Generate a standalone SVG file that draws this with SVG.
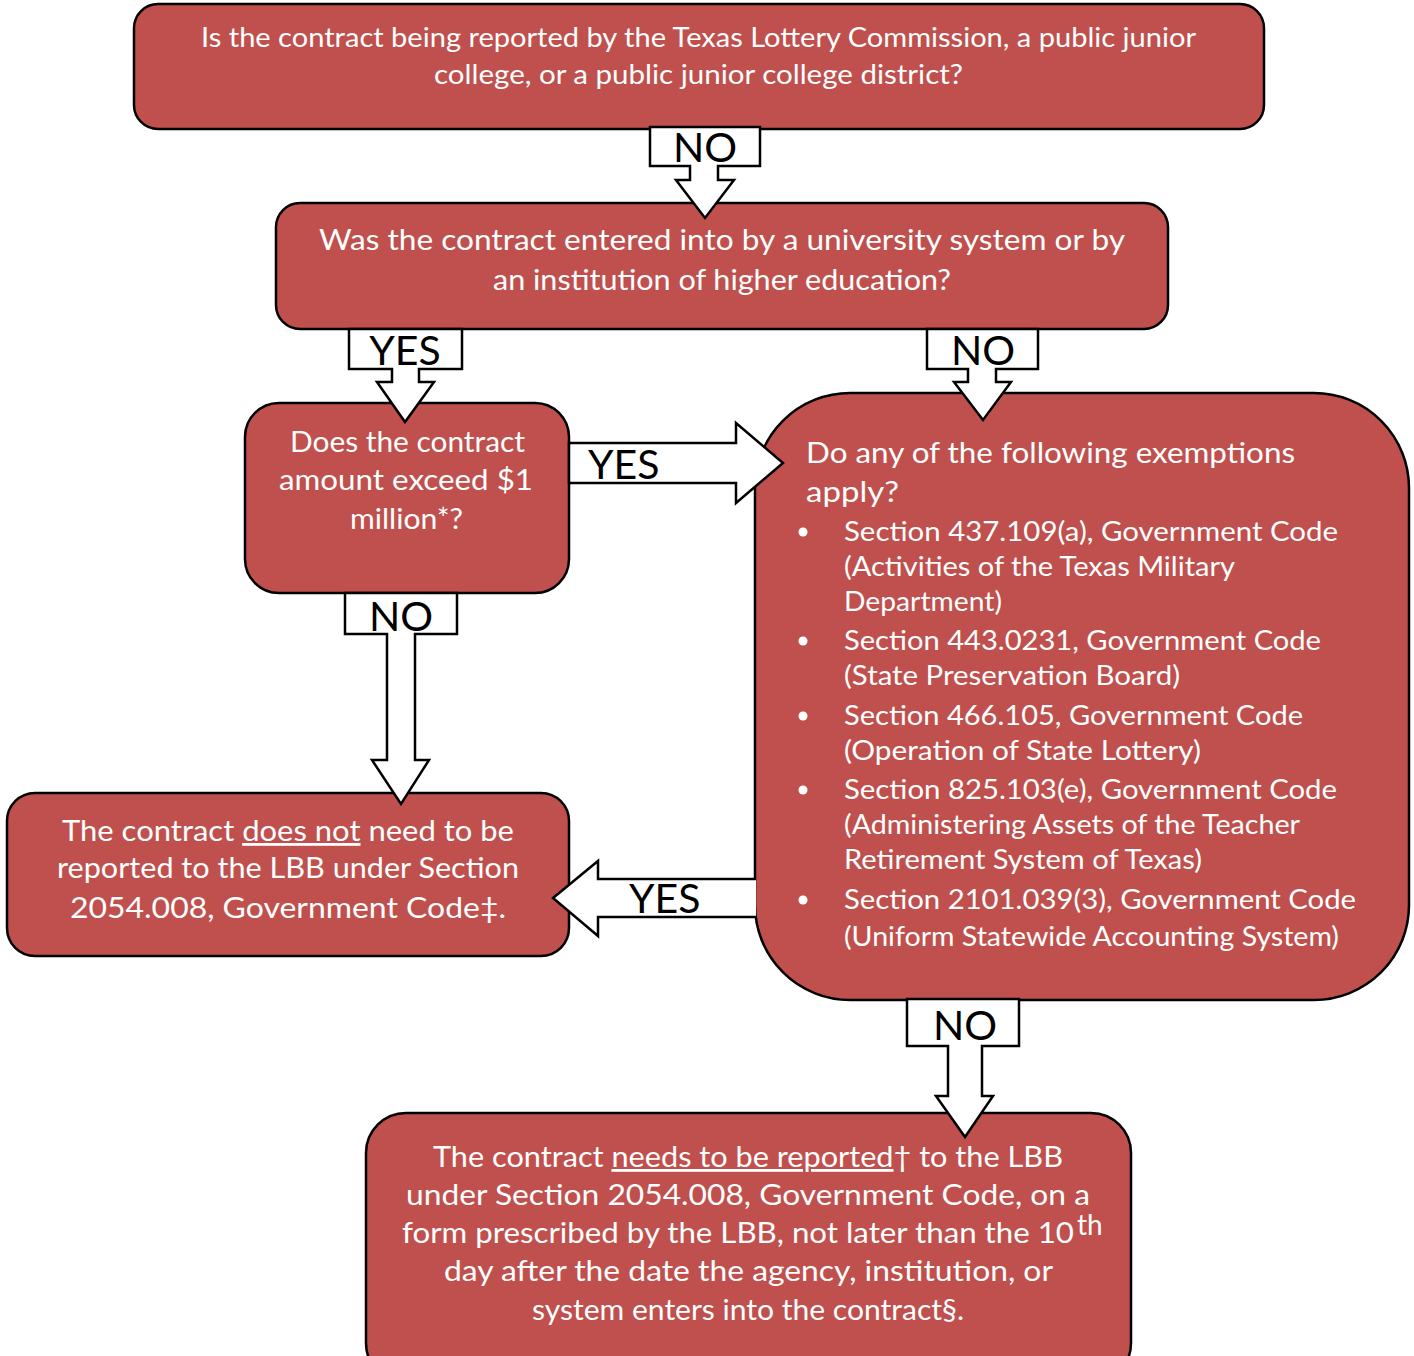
<svg xmlns="http://www.w3.org/2000/svg" width="1414" height="1356" viewBox="0 0 1414 1356">
<style>
.box{fill:#C0504D;stroke:#000;stroke-width:2.5}
.t{font-family:"Lato","Liberation Sans",sans-serif;fill:#fff;font-size:28px}
.s{font-size:26px}
.c{text-anchor:middle}
.arr{fill:#fff;stroke:#000;stroke-width:2.5;stroke-linejoin:miter}
.lab{font-family:"Lato","Liberation Sans",sans-serif;fill:#000;font-size:41px}
.u{text-decoration:underline}
</style>
<rect width="1414" height="1356" fill="#fff"/>
<g id="n1">
<rect class="box" x="134" y="4" width="1130" height="125" rx="24"/>
<text class="t s" x="201" y="47" textLength="995" lengthAdjust="spacingAndGlyphs">Is the contract being reported by the Texas Lottery Commission, a public junior</text>
<text class="t s" x="434" y="84" textLength="529" lengthAdjust="spacingAndGlyphs">college, or a public junior college district?</text>
</g>
<g id="n2">
<rect class="box" x="276" y="203" width="892" height="126" rx="24"/>
<text class="t" x="319" y="250" textLength="806" lengthAdjust="spacingAndGlyphs">Was the contract entered into by a university system or by</text>
<text class="t" x="493" y="290" textLength="458" lengthAdjust="spacingAndGlyphs">an institution of higher education?</text>
</g>
<g id="n3">
<rect class="box" x="245" y="403" width="324" height="190" rx="34"/>
<text class="t" x="290" y="452" textLength="235" lengthAdjust="spacingAndGlyphs">Does the contract</text>
<text class="t" x="279" y="490" textLength="254" lengthAdjust="spacingAndGlyphs">amount exceed $1</text>
<text class="t" x="350" y="529" textLength="113" lengthAdjust="spacingAndGlyphs">million*?</text>
</g>
<g id="n4">
<rect class="box" x="755" y="393" width="654" height="607" rx="95"/>
<text class="t" x="806" y="463" textLength="489" lengthAdjust="spacingAndGlyphs">Do any of the following exemptions</text>
<text class="t" x="806" y="502" textLength="93" lengthAdjust="spacingAndGlyphs">apply?</text>
<g fill="#fff">
<circle cx="803" cy="532" r="4.5"/>
<circle cx="803" cy="641" r="4.5"/>
<circle cx="803" cy="716" r="4.5"/>
<circle cx="803" cy="790" r="4.5"/>
<circle cx="803" cy="900" r="4.5"/>
</g>
<text class="t s" x="844" y="541" textLength="494" lengthAdjust="spacingAndGlyphs">Section 437.109(a), Government Code</text>
<text class="t s" x="844" y="576" textLength="391" lengthAdjust="spacingAndGlyphs">(Activities of the Texas Military</text>
<text class="t s" x="844" y="611" textLength="158" lengthAdjust="spacingAndGlyphs">Department)</text>
<text class="t s" x="844" y="650" textLength="477" lengthAdjust="spacingAndGlyphs">Section 443.0231, Government Code</text>
<text class="t s" x="844" y="685" textLength="336" lengthAdjust="spacingAndGlyphs">(State Preservation Board)</text>
<text class="t s" x="844" y="725" textLength="459" lengthAdjust="spacingAndGlyphs">Section 466.105, Government Code</text>
<text class="t s" x="844" y="760" textLength="357" lengthAdjust="spacingAndGlyphs">(Operation of State Lottery)</text>
<text class="t s" x="844" y="799" textLength="493" lengthAdjust="spacingAndGlyphs">Section 825.103(e), Government Code</text>
<text class="t s" x="844" y="834" textLength="456" lengthAdjust="spacingAndGlyphs">(Administering Assets of the Teacher</text>
<text class="t s" x="844" y="869" textLength="358" lengthAdjust="spacingAndGlyphs">Retirement System of Texas)</text>
<text class="t s" x="844" y="909" textLength="512" lengthAdjust="spacingAndGlyphs">Section 2101.039(3), Government Code</text>
<text class="t s" x="844" y="946" textLength="495" lengthAdjust="spacingAndGlyphs">(Uniform Statewide Accounting System)</text>
</g>
<g id="n5">
<rect class="box" x="7" y="793" width="562" height="163" rx="28"/>
<text class="t" x="62" y="841" textLength="452" lengthAdjust="spacingAndGlyphs">The contract <tspan class="u">does not</tspan> need to be</text>
<text class="t" x="57" y="878" textLength="462" lengthAdjust="spacingAndGlyphs">reported to the LBB under Section</text>
<text class="t" x="70" y="918" textLength="436" lengthAdjust="spacingAndGlyphs">2054.008, Government Code‡.</text>
</g>
<g id="n6">
<rect class="box" x="366" y="1113" width="765" height="270" rx="40"/>
<text class="t" x="433" y="1167" textLength="630" lengthAdjust="spacingAndGlyphs">The contract <tspan class="u">needs to be reported</tspan>† to the LBB</text>
<text class="t" x="406" y="1205" textLength="684" lengthAdjust="spacingAndGlyphs">under Section 2054.008, Government Code, on a</text>
<text class="t" x="402" y="1243" textLength="672" lengthAdjust="spacingAndGlyphs">form prescribed by the LBB, not later than the 10</text>
<text class="t" x="1077" y="1235" font-size="15">th</text>
<text class="t" x="444" y="1281" textLength="609" lengthAdjust="spacingAndGlyphs">day after the date the agency, institution, or</text>
<text class="t" x="532" y="1320" textLength="432" lengthAdjust="spacingAndGlyphs">system enters into the contract§.</text>
</g>
<g id="connectors">
<path class="arr" d="M650,127 H760 V166 H718 V180 H734 L705,218 L676,180 H690 V166 H650 Z"/>
<text class="lab c" x="705" y="162">NO</text>
<path class="arr" d="M349,329 H462 V369 H419 V382 H434 L405,422 L377,382 H392 V369 H349 Z"/>
<text class="lab c" x="405" y="365">YES</text>
<path class="arr" d="M927,329 H1038 V369 H996 V382 H1011 L983,420 L954,382 H968 V369 H927 Z"/>
<text class="lab c" x="983" y="365">NO</text>
<path class="arr" d="M569,443 H736 V423 L783,463 L736,503 V483 H569 Z"/>
<text class="lab" x="588" y="479">YES</text>
<path class="arr" d="M345,593 H457 V634 H415 V760 H429 L401,804 L372,760 H387 V634 H345 Z"/>
<text class="lab c" x="401" y="631">NO</text>
<path class="arr" d="M756,879 H598 V861 L553,898 L598,936 V917 H756"/>
<text class="lab" x="629" y="913">YES</text>
<path class="arr" d="M907,999 H1019 V1046 H982 V1096 H993 L965,1137 L936,1096 H948 V1046 H907 Z"/>
<text class="lab c" x="965" y="1040">NO</text>
</g>
</svg>
